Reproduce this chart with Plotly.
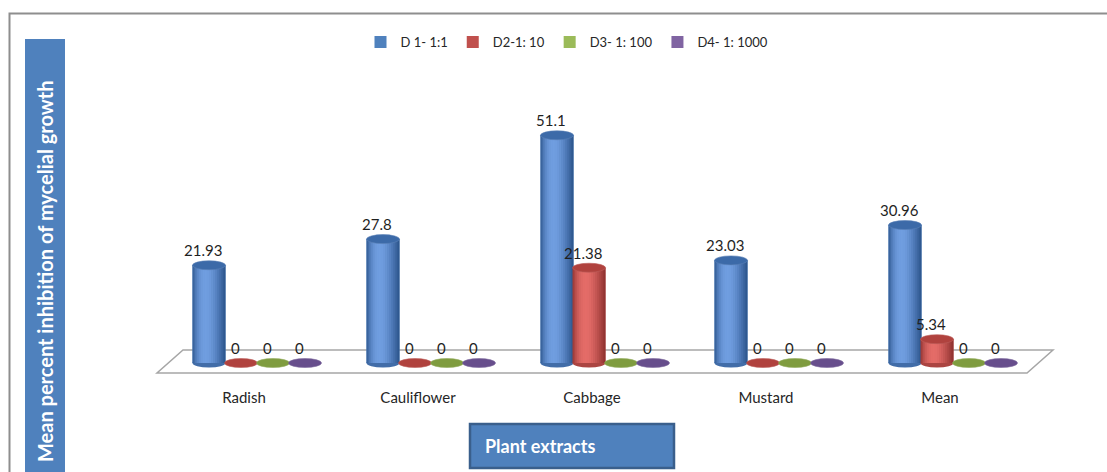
import math
import plotly.graph_objects as go

# ---- data ----
categories = ["Radish", "Cauliflower", "Cabbage", "Mustard", "Mean"]
series_names = ["D 1- 1:1", "D2-1: 10", "D3- 1: 100", "D4- 1: 1000"]
d1_values = [21.93, 27.8, 51.1, 23.03, 30.96]
d2_values = [0, 0, 21.38, 0, 5.34]
d3_values = [0, 0, 0, 0, 0]
d4_values = [0, 0, 0, 0, 0]
y_title = "Mean percent inhibition of mycelial growth"
x_title = "Plant extracts"

series_values = [d1_values, d2_values, d3_values, d4_values]

# ---- styles ----
FONT = "Lato, 'Open Sans', sans-serif"
base_colors = ["#4f81bd", "#c0504d", "#9bbb59", "#8064a2"]
shade_dark = [(42, 82, 138), (140, 48, 46), (108, 132, 52), (88, 66, 118)]
shade_light = [(112, 158, 224), (228, 108, 104), (186, 212, 130), (162, 136, 202)]
top_colors = [(60, 106, 168), (176, 66, 62), (127, 156, 63), (103, 78, 140)]

# ---- geometry (pixels of the page) ----
W, H = 1107, 472
PLOT_L, PLOT_R, PLOT_T, PLOT_B = 100, 1100, 90, 385
GROUP_X0, GROUP_STEP = 257, 174        # pixel centre of first group, group pitch
ZERO_Y, PX_PER_UNIT = 363, 4.456       # pixel row of value 0, pixels per percent
BAR_W = 33 / GROUP_STEP                # cylinder width in category units
PITCH = 32 / GROUP_STEP                # spacing of cylinders within a group
CAP = 4.5 / PX_PER_UNIT                # half height of cylinder end ellipses
SKEW = 13 / GROUP_STEP                 # perspective offset of floor edges
FLOOR_BACK = (ZERO_Y - 350) / PX_PER_UNIT
FLOOR_FRONT = (ZERO_Y - 373) / PX_PER_UNIT

x_range = [(PLOT_L - GROUP_X0) / GROUP_STEP, (PLOT_R - GROUP_X0) / GROUP_STEP]
y_range = [(ZERO_Y - PLOT_B) / PX_PER_UNIT, (ZERO_Y - PLOT_T) / PX_PER_UNIT]


def paper_x(px):
    return (px - PLOT_L) / (PLOT_R - PLOT_L)


def paper_y(py):
    return (PLOT_B - py) / (PLOT_B - PLOT_T)


def rgb(c):
    return "rgb(%d,%d,%d)" % tuple(int(round(v)) for v in c)


def mix(a, b, f):
    return tuple(a[i] + (b[i] - a[i]) * f for i in range(3))


fig = go.Figure()
shapes = []
annotations = []

# floor of the 3-D plot area
n = len(categories)
floor_path = "M {a},{fb} L {b},{fb} L {c},{ff} L {d},{ff} Z".format(
    a=-0.5 + SKEW, b=n - 0.5 + SKEW, c=n - 0.5 - SKEW, d=-0.5 - SKEW,
    fb=FLOOR_BACK, ff=FLOOR_FRONT)
shapes.append(dict(type="path", xref="x", yref="y", path=floor_path,
                   line=dict(color="#a6a6a6", width=1.5), fillcolor="white",
                   layer="below"))

N_STRIPS = 16
for j, (name, vals) in enumerate(zip(series_names, series_values)):
    xs = [i + (j - 1.5) * PITCH for i in range(n)]
    fig.add_trace(go.Bar(x=xs, y=vals, width=BAR_W, name=name,
                         marker=dict(color=base_colors[j], line=dict(width=0)),
                         hovertemplate=name + ": %{y}<extra></extra>"))

# cylinder bodies, drawn group by group so neighbours overlap naturally
for i in range(n):
    for j, vals in enumerate(series_values):
        v = vals[i]
        xc = i + (j - 1.5) * PITCH
        left, right = xc - BAR_W / 2, xc + BAR_W / 2
        if v > 0:
            shapes.append(dict(type="circle", xref="x", yref="y",
                               x0=left, x1=right, y0=-CAP, y1=CAP,
                               fillcolor=rgb(mix(shade_dark[j], shade_light[j], 0.35)),
                               line=dict(width=0)))
            sw = BAR_W / N_STRIPS
            for k in range(N_STRIPS):
                t = (k + 0.5) / N_STRIPS
                f = math.sin(math.pi * t ** 0.75)
                x0 = left + k * sw
                x1 = min(right, x0 + sw * 1.3)
                shapes.append(dict(type="rect", xref="x", yref="y",
                                   x0=x0, x1=x1, y0=0, y1=v,
                                   fillcolor=rgb(mix(shade_dark[j], shade_light[j], f)),
                                   line=dict(width=0)))
        shapes.append(dict(type="circle", xref="x", yref="y",
                           x0=left, x1=right, y0=v - CAP, y1=v + CAP,
                           fillcolor=rgb(top_colors[j]),
                           line=dict(width=0.6, color=rgb(mix(top_colors[j], (255, 255, 255), 0.15)))))
        annotations.append(dict(x=xc, y=v, xref="x", yref="y", text=f"{v:g}",
                                showarrow=False, yshift=15, xshift=-6,
                                font=dict(family=FONT, size=15, color="#1f1f1f")))

# outer chart border (top and left edges)
shapes.append(dict(type="path", xref="paper", yref="paper",
                   path="M {x0},{y0} L {x0},{y1} L {x2},{y1}".format(
                       x0=paper_x(9.5), y0=paper_y(480), y1=paper_y(13.5), x2=paper_x(1115)),
                   line=dict(color="#8e8e8e", width=2), layer="below"))

# y-axis title box
shapes.append(dict(type="rect", xref="paper", yref="paper",
                   x0=paper_x(25), x1=paper_x(65), y0=paper_y(480), y1=paper_y(39),
                   fillcolor="#4f81bd", line=dict(width=0)))
annotations.append(dict(x=paper_x(45), y=paper_y(271), xref="paper", yref="paper",
                        text="<b>" + y_title + "</b>", textangle=-90, showarrow=False,
                        xanchor="center", yanchor="middle",
                        font=dict(family=FONT, size=20, color="white")))

# x-axis title box
shapes.append(dict(type="rect", xref="paper", yref="paper",
                   x0=paper_x(470), x1=paper_x(674), y0=paper_y(468), y1=paper_y(424),
                   fillcolor="#4f81bd", line=dict(color="#3a5f8c", width=2.5)))
annotations.append(dict(x=paper_x(483), y=paper_y(446), xref="paper", yref="paper",
                        text="<b>" + x_title + "</b>", showarrow=False,
                        xanchor="left", yanchor="middle",
                        font=dict(family=FONT, size=18, color="white")))

fig.update_layout(
    width=W, height=H,
    margin=dict(l=PLOT_L, r=W - PLOT_R, t=PLOT_T, b=H - PLOT_B, pad=0),
    paper_bgcolor="white", plot_bgcolor="white",
    barmode="overlay",
    font=dict(family=FONT, size=14, color="#262626"),
    xaxis=dict(range=x_range, tickmode="array", tickvals=list(range(n)),
               ticktext=categories, ticks="", showgrid=False, zeroline=False,
               showline=False, ticklabelshift=-13, ticklabelstandoff=2,
               tickfont=dict(family=FONT, size=15, color="#262626"),
               fixedrange=True),
    yaxis=dict(range=y_range, visible=False, fixedrange=True),
    legend=dict(orientation="h", x=paper_x(567), y=paper_y(42),
                xanchor="center", yanchor="middle", itemwidth=30,
                bgcolor="rgba(0,0,0,0)", traceorder="normal",
                font=dict(family=FONT, size=13, color="#262626")),
    shapes=shapes,
    annotations=annotations,
)

fig.write_html("out.html")
